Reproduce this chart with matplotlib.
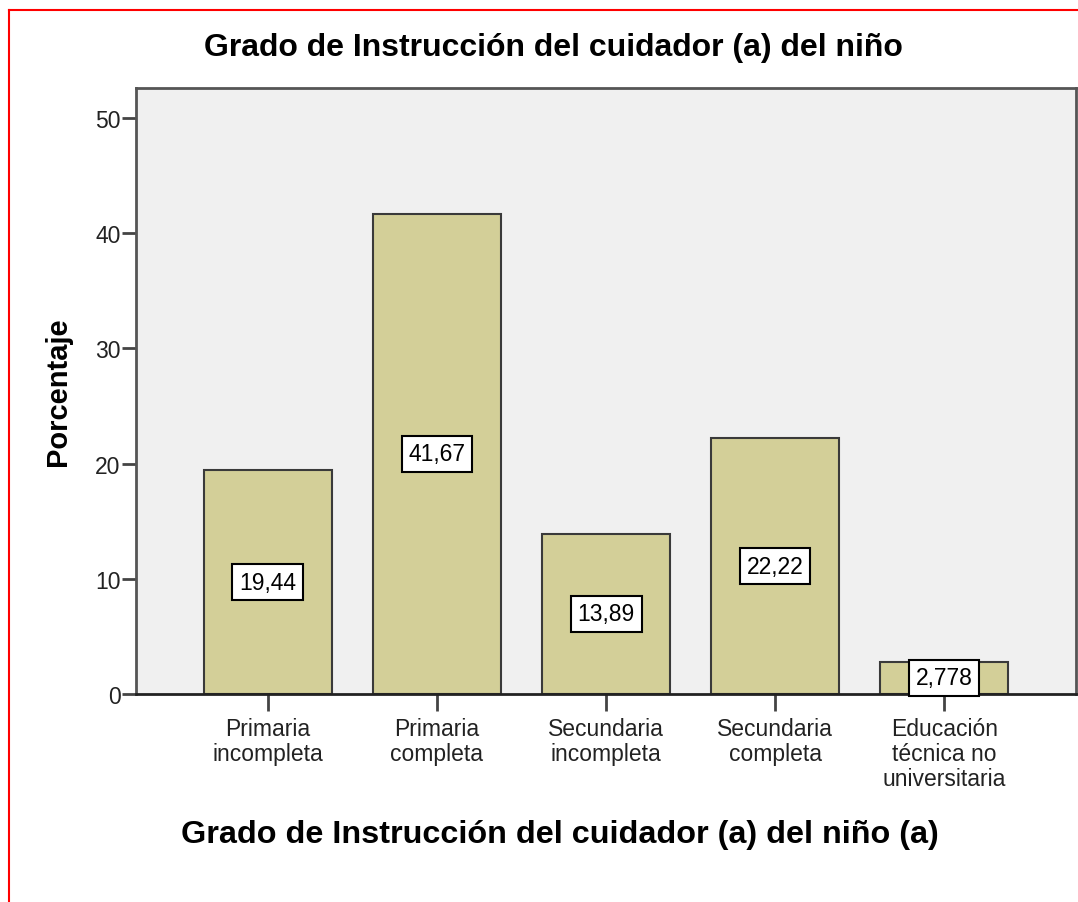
import matplotlib
matplotlib.use("Agg")
import matplotlib.pyplot as plt
from matplotlib.lines import Line2D

plt.rcParams['font.family'] = ['Liberation Sans', 'DejaVu Sans']

categorias = ["Primaria\nincompleta", "Primaria\ncompleta", "Secundaria\nincompleta",
              "Secundaria\ncompleta", "Educación\ntécnica no\nuniversitaria"]
porcentaje = [19.44, 41.67, 13.89, 22.22, 2.778]
etiquetas = ["19,44", "41,67", "13,89", "22,22", "2,778"]
yticks = [0, 10, 20, 30, 40, 50]

W, H = 1078, 903
fig = plt.figure(figsize=(W / 100, H / 100), dpi=100)
fig.patch.set_facecolor("white")

ax = fig.add_axes([136 / W, (H - 695) / H, 940 / W, (695 - 89) / H])
ax.set_facecolor("#f0f0f0")

x = list(range(len(categorias)))
ax.bar(x, porcentaje, width=0.757, color="#d3cf98", edgecolor="#3a3a3a", linewidth=1.5, zorder=2)

for xi, v, lab in zip(x, porcentaje, etiquetas):
    ax.text(xi, v / 2, lab, ha="center", va="center", fontsize=16.5, zorder=4,
            bbox=dict(boxstyle="square,pad=0.3", facecolor="white", edgecolor="black", linewidth=1.5))

ax.set_xlim(-0.78, 4.78)
ax.set_ylim(0, 52.6)
ax.set_yticks(yticks)
ax.set_xticks(x)
ax.set_xticklabels(categorias, fontsize=16.5, linespacing=1.1, color="#222222")
ax.tick_params(axis="y", labelsize=16.5, length=10, width=2, color="#444444", labelcolor="#222222", pad=1)
ax.tick_params(axis="x", length=12, width=2, color="#444444", pad=4.5)

for s in ax.spines.values():
    s.set_color("#555555")
    s.set_linewidth(2)
ax.spines["bottom"].set_color("#222222")

ax.set_ylabel("Porcentaje", fontsize=21, fontweight="bold", labelpad=17)

fig.text(553 / W, 1 - 48 / H, "Grado de Instrucción del cuidador (a) del niño",
         ha="center", va="center", fontsize=23, fontweight="bold")
fig.text(560 / W, 1 - 835 / H, "Grado de Instrucción del cuidador (a) del niño (a)",
         ha="center", va="center", fontsize=23.3, fontweight="bold")

# marco rojo
fig.add_artist(Line2D([9 / W, 1.0], [1 - 11 / H, 1 - 11 / H], color="red", linewidth=1.5, transform=fig.transFigure))
fig.add_artist(Line2D([9 / W, 9 / W], [1 - 11 / H, 0], color="red", linewidth=1.5, transform=fig.transFigure))

fig.savefig("out.png", dpi=100)
